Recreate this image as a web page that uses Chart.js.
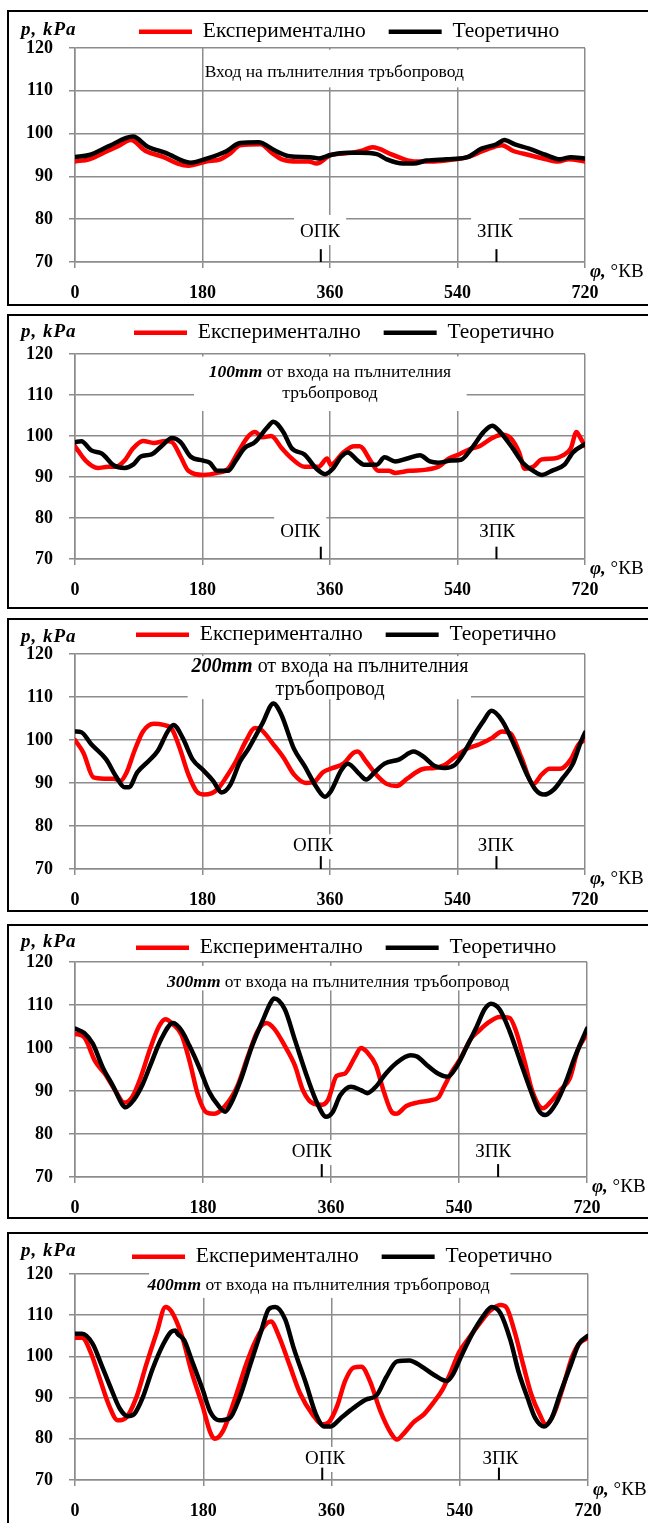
<!DOCTYPE html>
<html lang="bg">
<head>
<meta charset="utf-8">
<script src="https://cdn.jsdelivr.net/npm/chart.js@4.4.0/dist/chart.umd.min.js"></script>
<style>
	html, body { margin: 0; padding: 0; background: #fff; overflow: hidden; width: 648px; height: 1523px; }
	.frame { position: absolute; left: 7px; width: 660px; border: 2px solid #000; box-sizing: border-box; }
	.holder { position: absolute; left: 0; width: 648px; }
	canvas { display: block; }
</style>
</head>
<body>
<script>
// ---- values: [crank angle °КВ, pressure kPa]
const angleTicks = [0, 180, 360, 540, 720]
const pressureTicks = [70, 80, 90, 100, 110, 120]
const seriesNames = ['Експериментално', 'Теоретично']
const pressureLabel = 'p, kPa'
const angleLabel = ['φ,', ' °КВ']
const valveNames = ['ОПК', 'ЗПК']
const valveAngles = [347, 595]

const inletExp = [[0,93.5],[20,94],[40,95.5],[60,97],[79,98.5],[99,96],[125,94.5],[145,93],[160,92.5],[185,93.5],[205,94],[220,95.5],[233,97.3],[262,97.5],[278,95.5],[292,94],[315,93.5],[330,93.5],[341,93],[361,95],[390,95.5],[405,96],[420,96.8],[449,95],[478,93.5],[507,93.5],[536,94],[554,94.5],[577,96],[603,97.3],[618,96],[641,95],[665,94],[682,93.5],[697,94],[720,93.5]]
const inletTheo = [[0,94.5],[20,95],[47,97],[82,99.3],[102,97],[128,95.5],[163,93.2],[187,94.2],[213,95.8],[233,97.8],[259,98],[283,96],[303,94.7],[332,94.5],[344,94.2],[361,95],[385,95.5],[402,95.5],[426,95.2],[440,94],[463,93],[478,93],[496,93.7],[525,94],[554,94.5],[574,96.5],[595,97.5],[606,98.5],[621,97.5],[641,96.5],[665,95],[685,94],[700,94.5],[720,94.2]]

const mm100Exp = [[0,97.5],[15,94],[32,92.2],[47,92.5],[58,92.5],[70,94],[82,97],[96,98.8],[111,98.3],[128,98.8],[137,98.5],[149,95],[160,91.5],[181,90.5],[201,91],[216,92],[230,96],[245,100],[254,101],[265,99.7],[277,100],[292,97],[306,94.5],[324,92.5],[344,92.5],[356,94.5],[361,93],[379,96],[394,97.5],[402,97.5],[417,94],[428,91.5],[443,91.5],[452,91],[472,91.5],[496,91.8],[513,92.5],[528,94.5],[542,95.5],[560,97],[571,97.5],[589,99.5],[603,100.3],[615,99.5],[627,96],[635,92],[647,92.5],[659,94.3],[676,94.5],[688,95.2],[700,97],[708,101],[712,100],[720,97.5]]
const mm100Theo = [[0,98.5],[9,98.7],[23,96.5],[38,95.7],[55,92.8],[70,92.2],[82,93],[93,95],[108,95.5],[122,97.5],[137,99.5],[149,98.5],[163,95],[181,94],[190,93.5],[201,91.5],[216,91.5],[227,94],[239,97],[254,98.5],[271,102],[280,103.5],[294,101],[306,97],[324,95.5],[341,92],[353,90.7],[364,92],[376,95],[385,96],[399,94],[408,93],[426,93],[437,94.8],[452,93.8],[469,94.5],[487,95.3],[501,93.8],[513,93.5],[531,94],[545,94.2],[560,97],[577,101],[589,102.5],[600,101],[618,97],[632,93.5],[647,91.5],[659,90.5],[673,91.5],[691,93],[703,96],[720,98]]

const mm200Exp = [[0,100],[12,97],[26,91.3],[41,91],[55,91],[64,90.5],[73,92.5],[84,97.5],[96,102],[111,103.8],[125,103.5],[137,102.5],[148,98],[160,92],[172,88],[183,87.3],[201,88.5],[212,91],[227,95],[242,100],[254,102.8],[262,102.5],[280,99],[294,96],[309,92],[326,90],[338,90.3],[350,92.5],[364,93.5],[379,94.5],[393,97],[399,97.3],[411,95],[425,92],[440,89.8],[454,89.3],[469,91],[490,93.2],[507,93.5],[522,94.2],[536,96],[554,98],[571,99],[589,100.5],[603,102],[615,101.5],[630,96],[647,89.8],[659,92],[670,93.3],[685,93.3],[700,95.5],[711,99],[720,100]]
const mm200Theo = [[0,102],[9,101.8],[23,99],[44,95.5],[58,91.5],[70,89],[76,89],[88,92.5],[105,95.3],[117,97.5],[131,102],[139,103.5],[152,100.5],[166,95.5],[181,93],[195,90.5],[207,87.8],[219,89.5],[233,95],[245,98],[265,104],[280,108.5],[291,106],[309,98],[324,94],[341,89],[353,86.8],[361,88],[376,93],[385,94.5],[402,92],[411,90.8],[423,92.5],[437,94.5],[458,95.5],[478,97.3],[493,96],[507,94],[522,93.5],[536,94.2],[545,96],[563,101],[577,104.5],[588,106.8],[603,104.5],[621,98.5],[638,92],[650,88.5],[662,87.3],[676,88.5],[688,91],[703,94.5],[714,99.5],[720,101.7]]

const mm300Exp = [[0,103.3],[13,102.5],[28,97],[42,94],[57,90],[69,87.3],[80,88.5],[92,93],[106,100],[118,105],[127,106.7],[138,105.5],[150,103],[161,97],[173,89],[185,85],[196,84.7],[211,86.5],[228,91],[243,98],[257,104],[269,105.8],[280,104.5],[295,100.5],[309,96],[321,90],[336,87],[347,86.8],[356,88],[368,93.5],[379,94],[394,98],[402,100],[411,99],[423,96],[434,90],[446,85],[452,84.7],[466,86.5],[481,87.3],[499,87.8],[511,88.5],[519,91],[530,94.5],[542,97.5],[556,102],[568,104],[582,106],[597,107.2],[611,107],[620,104],[632,97],[643,90],[658,86],[669,87.5],[684,90.5],[696,93],[707,99.5],[720,103.3]]
const mm300Theo = [[0,104.5],[13,103.5],[25,101],[39,95.5],[54,91],[66,87],[71,86.2],[83,88],[95,91.5],[106,96],[121,102],[138,105.8],[150,104],[161,100.5],[176,95],[188,90],[202,86.5],[211,85.2],[219,87],[234,93],[248,100],[263,106],[275,110.5],[280,111.5],[295,109],[309,102],[327,93],[341,87],[353,84],[362,85],[373,89],[388,91],[402,90.2],[411,89.5],[423,91],[437,94],[452,96.5],[472,98.3],[481,98],[495,96],[511,94],[524,93.3],[536,95.5],[550,100],[565,105],[576,109],[585,110.3],[597,109],[611,104],[626,97],[641,90],[652,85.5],[661,84.4],[676,87],[690,92],[702,97.5],[720,104.5]]

const mm400Exp = [[0,104.5],[10,104.5],[22,101],[34,95],[48,88],[60,84.5],[71,85],[86,90],[100,98],[115,106],[127,112],[135,111],[150,105],[164,96],[179,88],[190,81.5],[196,80],[208,82],[225,90],[240,98],[254,104],[269,108],[275,108.5],[286,105],[301,98],[316,91],[333,86],[347,83.5],[356,84],[368,88],[379,94],[391,97.3],[402,97.5],[414,94],[428,87],[443,81.5],[452,79.8],[460,81],[475,84],[490,86],[504,89],[516,92],[527,96],[539,101],[553,104.5],[568,108],[582,111],[597,112.5],[605,112],[617,106],[629,98],[640,91],[652,86],[661,83.5],[672,86],[684,92],[698,100],[707,103],[720,104.5]]
const mm400Theo = [[0,105.5],[10,105.5],[25,103],[37,98],[51,92],[63,87.3],[74,85.5],[83,86],[95,90],[109,97],[124,103],[135,106],[141,106.3],[144,105.5],[153,104],[164,99],[179,92],[190,86.5],[202,84.5],[217,85],[231,90],[246,98],[261,106],[272,111.5],[281,112],[295,109],[307,102],[325,93],[338,86],[350,83],[359,83],[373,85],[391,87.5],[408,89.5],[423,90.5],[437,95],[452,98.8],[469,99],[487,97.5],[504,95.5],[522,94],[530,95.5],[542,100],[556,105],[574,110],[585,112],[597,110.5],[611,104],[623,96],[635,90],[646,85],[658,83],[669,85],[681,91],[696,98],[707,103],[720,105]]

const expSeries = [inletExp, mm100Exp, mm200Exp, mm300Exp, mm400Exp]
const theoSeries = [inletTheo, mm100Theo, mm200Theo, mm300Theo, mm400Theo]

// caption per panel: lines of [bold italic lead, plain rest]
const panelTitles = [
	[['', 'Вход на пълнителния тръбопровод']],
	[['100mm', ' от входа на пълнителния'], ['', 'тръбопровод']],
	[['200mm', ' от входа на пълнителния'], ['', 'тръбопровод']],
	[['300mm', ' от входа на пълнителния тръбопровод']],
	[['400mm', ' от входа на пълнителния тръбопровод']],
]
// caption anchors / white boxes in data units [angle, kPa]
const titleAnchors = [[366, 114.4], [360, 115.4], [360, 117], [370, 115.3], [342, 117.3]]
const titleSizes = [17.5, 17.5, 20, 17.5, 17.5]
const titleBoxes = [[183, 545, 119.6, 110.8], [168, 553, 119.4, 106.1], [159, 559, 119.5, 109.5], [131, 612, 119.1, 113.4], [104, 611, 121.5, 114.2]]
const valveLabelXs = [[346, 593], [318, 596], [336, 594], [333, 588], [351, 597]]
const valveLabelYs = [77, 76.6, 75.3, 75.8, 75.1]
const valveBoxTops = [[81, 81], [81, null], [null, null], [null, null], [null, null]]

// ---- page geometry (px)
const frameTops = [10, 314, 618, 924, 1232]
const frameBottoms = [306, 609, 912, 1219, 1535]
const plotTops = [48, 354, 654, 962, 1274]
const plotBottoms = [262, 559, 869, 1177, 1480]
const plotRights = [585, 585, 585, 587, 588]
const legendXs = [139, 134, 136, 136, 132]
const legendYs = [32, 333, 635, 948, 1257]
const unitYs = [30, 332, 637, 942, 1251]

const SERIF = '"Liberation Serif", "Times New Roman", serif'
const GRID = '#8c8c8c'

function toPoints(pairs) {
	return pairs.map(([a, p]) => ({ x: a, y: p }))
}

function drawMixed(ctx, [lead, rest], cx, cy, size) {
	const fLead = `italic bold ${size}px ${SERIF}`
	const fRest = `${size}px ${SERIF}`
	ctx.font = fLead
	const w1 = lead ? ctx.measureText(lead).width : 0
	ctx.font = fRest
	const w2 = ctx.measureText(rest).width
	const x0 = cx - (w1 + w2) / 2
	ctx.textAlign = 'left'
	ctx.textBaseline = 'middle'
	ctx.fillStyle = '#000'
	if (lead) {
		ctx.font = fLead
		ctx.fillText(lead, x0, cy)
	}
	ctx.font = fRest
	ctx.fillText(rest, x0 + w1, cy)
}

function makeOverlay(i) {
	const top = frameTops[i]
	return {
		id: 'overlay',
		afterLayout(chart) {
			// put the legend where the figure has it
			const lg = chart.legend
			const pad = lg.options.labels.padding
			const w = lg.width, h = lg.height
			lg.left = legendXs[i] - pad
			lg.right = lg.left + w
			lg.top = legendYs[i] - top - pad - 11
			lg.bottom = lg.top + h
		},
		beforeDatasetsDraw(chart) {
			const { ctx, scales: { x, y } } = chart
			ctx.save()
			const [bx0, bx1, by0, by1] = titleBoxes[i]
			ctx.fillStyle = '#fff'
			ctx.fillRect(x.getPixelForValue(bx0), y.getPixelForValue(by0),
				x.getPixelForValue(bx1) - x.getPixelForValue(bx0), y.getPixelForValue(by1) - y.getPixelForValue(by0))
			const size = titleSizes[i]
			const [tx, ty] = titleAnchors[i]
			panelTitles[i].forEach((line, k) => {
				drawMixed(ctx, line, x.getPixelForValue(tx), y.getPixelForValue(ty) + k * size * 1.15, size)
			})

			valveNames.forEach((name, k) => {
				ctx.font = `19px ${SERIF}`
				const cx = x.getPixelForValue(valveLabelXs[i][k])
				const cy = y.getPixelForValue(valveLabelYs[i])
				const w = ctx.measureText(name).width
				const bt = valveBoxTops[i][k] == null ? cy - 12 : y.getPixelForValue(valveBoxTops[i][k])
				ctx.fillStyle = '#fff'
				ctx.fillRect(cx - w / 2 - 6, bt, w + 12, cy + 13 - bt)
				ctx.fillStyle = '#000'
				ctx.textAlign = 'center'
				ctx.textBaseline = 'middle'
				ctx.fillText(name, cx, cy)
				// short valve marker sitting on the angle axis
				const vx = x.getPixelForValue(valveAngles[k])
				const y73 = y.getPixelForValue(73), y70 = y.getPixelForValue(70)
				ctx.fillRect(vx - 1, y73, 2, y70 - y73)
			})
			ctx.restore()
		},
		afterDraw(chart) {
			const { ctx, chartArea } = chart
			ctx.save()
			ctx.fillStyle = '#000'
			ctx.textAlign = 'left'
			ctx.textBaseline = 'middle'
			ctx.font = `italic bold 19px ${SERIF}`
			ctx.letterSpacing = '1px'
			ctx.fillText(pressureLabel, 21, unitYs[i] - top)
			ctx.letterSpacing = '0px'
			const px = chartArea.right + 5, py = chartArea.bottom + 10
			ctx.fillText(angleLabel[0], px, py)
			const w = ctx.measureText(angleLabel[0]).width
			ctx.font = `19px ${SERIF}`
			ctx.fillText(angleLabel[1], px + w, py)
			ctx.restore()
		}
	}
}

function buildPanel(i) {
	const top = frameTops[i]
	const h = Math.min(frameBottoms[i], 1523) - top

	const frame = document.createElement('div')
	frame.className = 'frame'
	frame.style.top = top + 'px'
	frame.style.height = (frameBottoms[i] - top) + 'px'
	document.body.appendChild(frame)

	const holder = document.createElement('div')
	holder.className = 'holder'
	holder.style.top = top + 'px'
	holder.style.height = h + 'px'
	const canvas = document.createElement('canvas')
	canvas.width = 648
	canvas.height = h
	holder.appendChild(canvas)
	document.body.appendChild(holder)

	const tickFont = { family: SERIF, size: 18, weight: 'bold' }
	const config = {
		type: 'line',
		data: {
			datasets: [{
				label: seriesNames[0],
				data: toPoints(expSeries[i]),
				borderColor: '#ff0000',
				backgroundColor: '#ff0000',
				borderWidth: 4.5,
				borderCapStyle: 'round',
				order: 1
			}, {
				label: seriesNames[1],
				data: toPoints(theoSeries[i]),
				borderColor: '#000000',
				backgroundColor: '#000000',
				borderWidth: 4.5,
				borderCapStyle: 'round',
				order: 0
			}]
		},
		options: {
			responsive: false,
			animation: false,
			events: [],
			layout: { padding: { top: 0, left: 0, right: 648 - plotRights[i], bottom: 0 } },
			elements: {
				point: { radius: 0 },
				line: { cubicInterpolationMode: 'monotone' }
			},
			scales: {
				x: {
					type: 'linear',
					min: angleTicks[0],
					max: angleTicks[angleTicks.length - 1],
					ticks: { stepSize: angleTicks[1] - angleTicks[0], font: tickFont, color: '#000', padding: 15, maxRotation: 0 },
					grid: { color: GRID, lineWidth: 1.5, tickLength: 6 },
					border: { color: GRID, width: 1.5 },
					afterFit: (s) => { s.height = h - (plotBottoms[i] - top) }
				},
				y: {
					min: pressureTicks[0],
					max: pressureTicks[pressureTicks.length - 1],
					ticks: { stepSize: pressureTicks[1] - pressureTicks[0], font: tickFont, color: '#000', padding: 16 },
					grid: { color: GRID, lineWidth: 1.5, tickLength: 6 },
					border: { color: GRID, width: 1.5 },
					afterFit: (s) => { s.width = 75 }
				}
			},
			plugins: {
				tooltip: { enabled: false },
				legend: {
					position: 'top',
					align: 'start',
					labels: {
						usePointStyle: true,
						pointStyle: 'line',
						pointStyleWidth: 53,
						padding: 23,
						color: '#000',
						font: { family: SERIF, size: 21.5 },
						sort: (a, b) => a.datasetIndex - b.datasetIndex
					}
				}
			}
		},
		plugins: [makeOverlay(i)]
	}

	const chart = new Chart(canvas, config)
	// legend height is only known after the first layout, so line the plot top up afterwards
	chart.config.options.layout.padding.top += (plotTops[i] - top) - chart.chartArea.top
	chart.update()
	return chart
}

const charts = frameTops.map((_, i) => buildPanel(i))
</script>
</body>
</html>
